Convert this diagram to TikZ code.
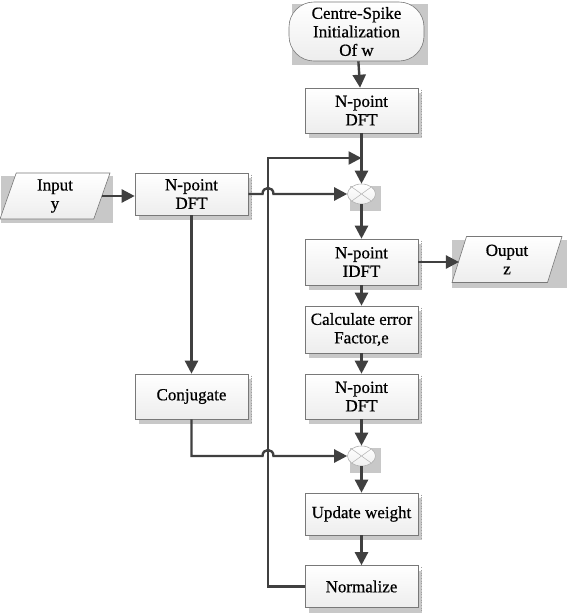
\documentclass[tikz,border=0pt]{standalone}
\usepackage{fontspec}
\setmainfont[FakeBold=0.6]{Liberation Serif}
\usetikzlibrary{shapes.geometric,arrows.meta,shadows}
\definecolor{shd}{RGB}{200,200,200}
\definecolor{ln}{RGB}{64,64,64}
\definecolor{edge}{RGB}{120,120,120}
\begin{document}
\begin{tikzpicture}[x=1pt,y=-1pt,
  every node/.style={font=\fontsize{17}{18.5}\selectfont, align=center, inner sep=0pt},
  proc/.style={rectangle, draw=edge, line width=0.6pt, top color=white, bottom color=gray!14,
     minimum width=113pt, minimum height=45pt,
     drop shadow={shadow xshift=4pt, shadow yshift=-5pt, fill=shd, opacity=1}},
  term/.style={rectangle, rounded corners=25pt, draw=edge, line width=0.6pt, top color=white, bottom color=gray!14,
     minimum width=135pt, minimum height=59pt},
  io/.style={trapezium, trapezium left angle=64, trapezium right angle=116, trapezium stretches body,
     draw=edge, line width=0.6pt, top color=white, bottom color=gray!14, minimum width=110pt, minimum height=46pt},
  mult/.style={ellipse, draw=gray!60, line width=0.6pt, top color=white, bottom color=gray!12,
     minimum width=28pt, minimum height=20pt},
  conn/.style={draw=ln, line width=2.4pt, -{Triangle[length=13pt,width=13pt]}},
  crossl/.style={draw=gray!60, line width=0.5pt},
  dotl/.style={draw=gray!75, line width=0.7pt, dotted},
]
\useasboundingbox (0,0) rectangle (567,614);

% shadows of non-box shapes
\fill[shd] (292,4) rectangle (428,65);
\fill[shd] (1,176) rectangle (113,223);
\fill[shd] (452,240) rectangle (567,288);
\fill[shd] (350,186) rectangle (381,211);
\fill[shd] (350,448) rectangle (381,473);

% nodes
\node[term] (init) at (356.5,31.5) {Centre-Spike\\Initialization\\Of w};
\node[proc] (dft1) at (361.5,110.5) {N-point\\DFT};
\node[mult] (m1) at (361.5,194) {};
\node[io] (in) at (55,196) {Input\\y};
\node[proc, minimum height=42pt] (dft2) at (191.5,194) {N-point\\DFT};
\node[proc, minimum height=46pt] (idft) at (361.5,262) {N-point\\IDFT};
\node[io] (out) at (507,259.5) {Ouput\\z};
\node[proc, minimum height=47pt] (calc) at (361.5,329.5) {Calculate error\\Factor,e};
\node[proc] (conj) at (191.5,396.5) {Conjugate};
\node[proc] (dft3) at (361.5,396.5) {N-point\\DFT};
\node[mult] (m2) at (361.5,456) {};
\node[proc, minimum height=42pt] (upd) at (361.5,514) {Update weight};
\node[proc, minimum height=42pt] (norm) at (361.5,586.5) {Normalize};

% dotted right edges of the boxes
\foreach \n in {dft1,dft2,idft,calc,conj,dft3,upd,norm}
  \draw[dotl] ([xshift=3pt,yshift=-2pt]\n.north east) -- ([xshift=3pt,yshift=-3pt]\n.south east);

% crosses in multipliers
\draw[crossl] (m1.north east) -- (m1.south west) (m1.north west) -- (m1.south east);
\draw[crossl] (m2.north east) -- (m2.south west) (m2.north west) -- (m2.south east);

% coordinates
\coordinate (j1) at (268,194);
\coordinate (j2) at (268,456);
\coordinate (fb1) at (268,158);
\coordinate (fb2) at (361.5,158);

% connectors
\draw[conn] (init) -- (dft1);
\draw[conn] (dft1) -- (m1);
\draw[conn] (m1) -- (idft);
\draw[conn] (idft) -- (calc);
\draw[conn] (calc) -- (dft3);
\draw[conn] (dft3) -- (m2);
\draw[conn] (m2) -- (upd);
\draw[conn] (upd) -- (norm);
\draw[conn] (idft.east) -- (out.west |- idft.east);
\draw[conn] (in.east) -- (in.east -| dft2.west);
\draw[conn] (dft2) -- (conj);
\draw[conn] (norm.west) -| (fb1) -- (fb2);
\draw[conn] (dft2.east) -- ([xshift=-5.5pt]j1) .. controls ([xshift=-5.5pt,yshift=8pt]j1) and ([xshift=5.5pt,yshift=8pt]j1) .. ([xshift=5.5pt]j1) -- (m1.west);
\draw[conn] (conj.south) -- (conj.south |- j2) -- ([xshift=-5.5pt]j2) .. controls ([xshift=-5.5pt,yshift=8pt]j2) and ([xshift=5.5pt,yshift=8pt]j2) .. ([xshift=5.5pt]j2) -- (m2.west);
\end{tikzpicture}
\end{document}
